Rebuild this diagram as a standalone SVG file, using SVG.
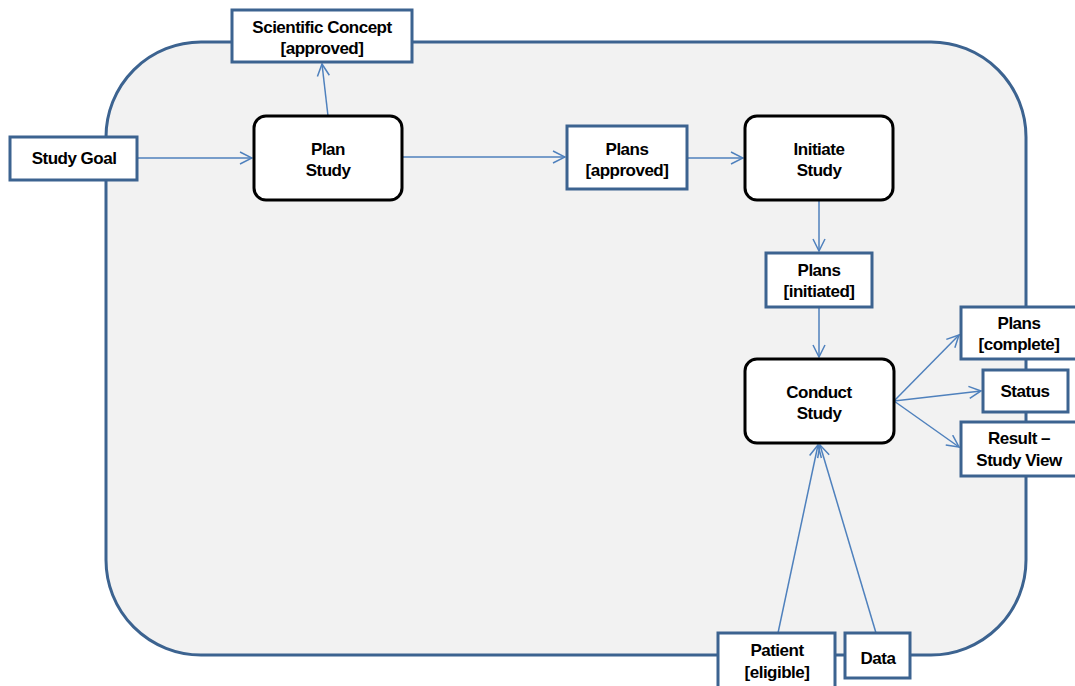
<svg xmlns="http://www.w3.org/2000/svg" width="1075" height="686" viewBox="0 0 1075 686">
<defs>
<marker id="arr" viewBox="0 0 14 14" refX="13" refY="7" markerWidth="14" markerHeight="14" markerUnits="userSpaceOnUse" orient="auto">
<path d="M1,1 L13,7 L1,13" fill="none" stroke="#4F81BD" stroke-width="1.5"/>
</marker>
</defs>
<style>
.bg{fill:#F2F2F2;stroke:#3C6390;stroke-width:3}
.obj{fill:#fff;stroke:#3C6390;stroke-width:3}
.act{fill:#fff;stroke:#000;stroke-width:3}
.t{font-family:"Liberation Sans",Arial,sans-serif;font-weight:bold;font-size:17px;fill:#000;text-anchor:middle;letter-spacing:-0.5px}
.c{fill:none;stroke:#4F81BD;stroke-width:1.5;marker-end:url(#arr)}
</style>
<rect class="bg" x="106" y="42" width="920" height="613" rx="95" ry="95"/>
<g id="connectors">
<line class="c" x1="137" y1="158" x2="252" y2="158"/>
<line class="c" x1="328" y1="116" x2="322" y2="64"/>
<line class="c" x1="402" y1="157" x2="565" y2="157"/>
<line class="c" x1="688" y1="158" x2="743" y2="158"/>
<line class="c" x1="819" y1="201" x2="819" y2="251"/>
<line class="c" x1="819" y1="307" x2="819" y2="357"/>
<line class="c" x1="894" y1="401" x2="959" y2="335"/>
<line class="c" x1="894" y1="401" x2="981" y2="391"/>
<line class="c" x1="894" y1="401" x2="959" y2="447"/>
<line class="c" x1="778" y1="633" x2="818" y2="445"/>
<line class="c" x1="876" y1="633" x2="820" y2="445"/>
</g>
<g id="study-goal"><rect class="obj" x="10" y="137" width="127" height="43"/><text class="t" x="74" y="164">Study Goal</text></g>
<g id="scientific-concept"><rect class="obj" x="232" y="10" width="180" height="52"/><text class="t" x="322" y="33">Scientific Concept</text><text class="t" x="322" y="54">[approved]</text></g>
<g id="plan-study"><rect class="act" x="254" y="116" width="148" height="84" rx="12"/><text class="t" x="328" y="155">Plan</text><text class="t" x="328" y="176">Study</text></g>
<g id="plans-approved"><rect class="obj" x="567" y="126" width="120" height="63"/><text class="t" x="627" y="155">Plans</text><text class="t" x="627" y="176">[approved]</text></g>
<g id="initiate-study"><rect class="act" x="745" y="116" width="148" height="84" rx="12"/><text class="t" x="819" y="155">Initiate</text><text class="t" x="819" y="176">Study</text></g>
<g id="plans-initiated"><rect class="obj" x="766" y="253" width="106" height="54"/><text class="t" x="819" y="276">Plans</text><text class="t" x="819" y="297">[initiated]</text></g>
<g id="conduct-study"><rect class="act" x="745" y="359" width="149" height="84" rx="12"/><text class="t" x="819" y="398">Conduct</text><text class="t" x="819" y="419">Study</text></g>
<g id="plans-complete"><rect class="obj" x="961" y="307" width="116" height="52"/><text class="t" x="1019" y="329">Plans</text><text class="t" x="1019" y="350">[complete]</text></g>
<g id="status"><rect class="obj" x="983" y="370" width="85" height="42"/><text class="t" x="1025" y="397">Status</text></g>
<g id="result"><rect class="obj" x="961" y="422" width="116" height="54"/><text class="t" x="1019" y="444">Result –</text><text class="t" x="1019" y="466">Study View</text></g>
<g id="patient"><rect class="obj" x="718" y="633" width="117" height="56"/><text class="t" x="777" y="656">Patient</text><text class="t" x="777" y="678">[eligible]</text></g>
<g id="data"><rect class="obj" x="845" y="633" width="65" height="45"/><text class="t" x="878" y="664">Data</text></g>
</svg>
